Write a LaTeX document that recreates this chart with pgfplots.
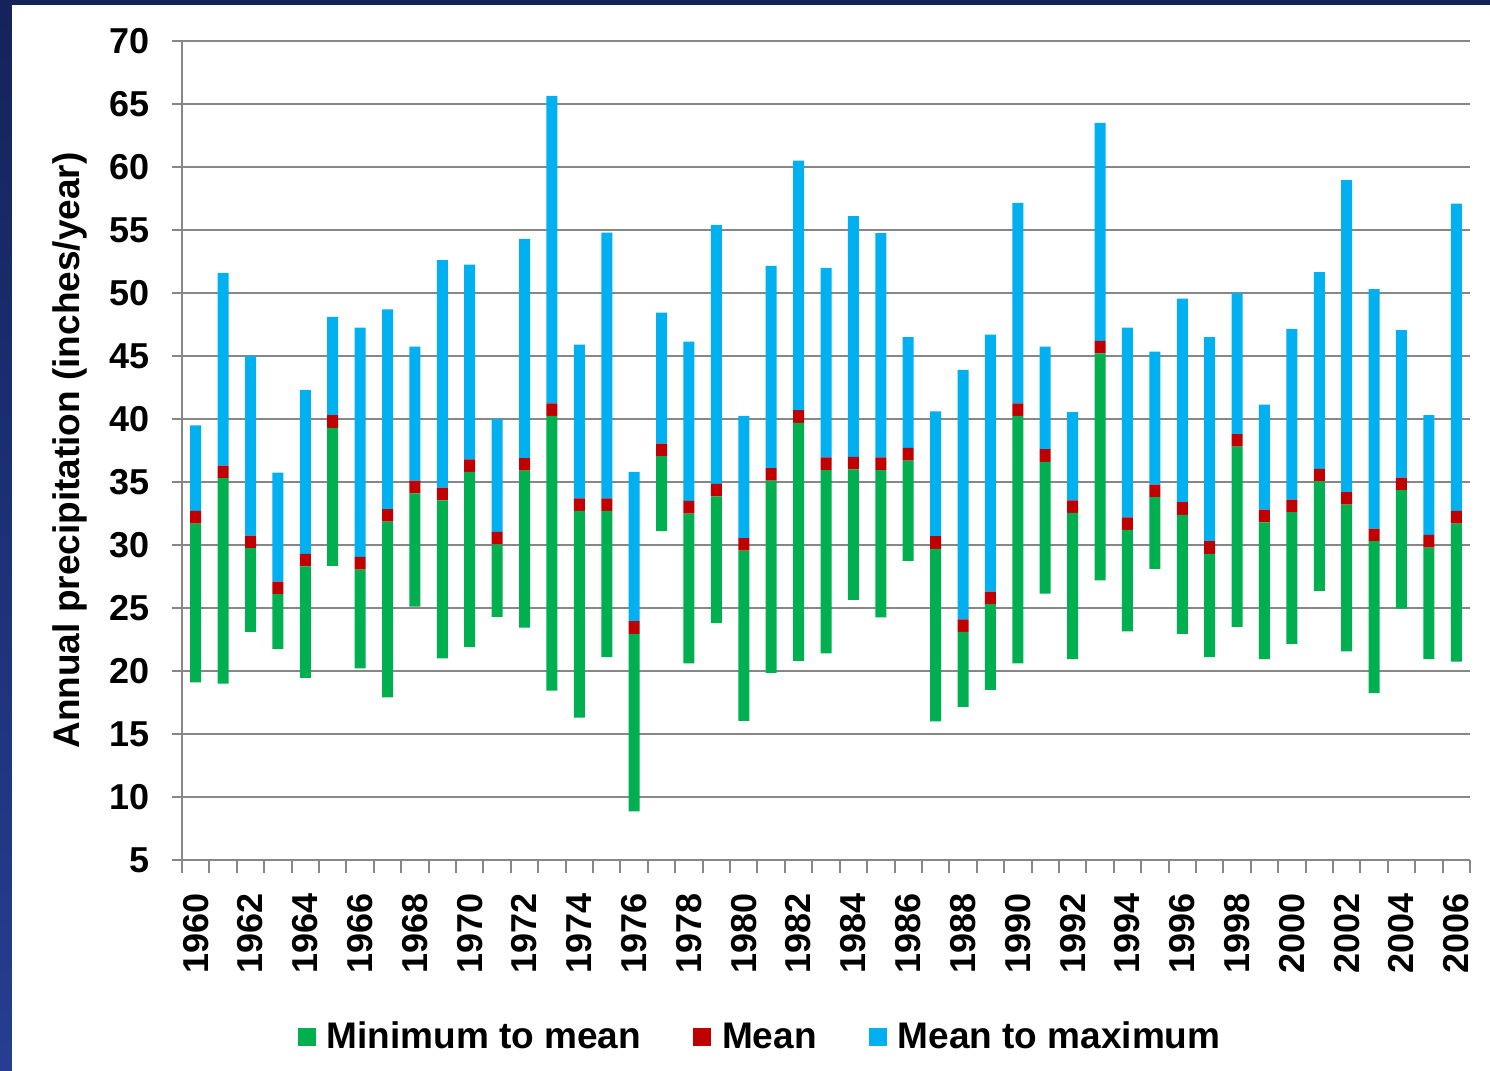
\documentclass[border=0pt]{standalone}
\usepackage{fontspec}
\setmainfont{Liberation Sans}
\usepackage{pgfplots}
\usepackage{pgfplotstable}
\pgfplotsset{compat=1.18}
\definecolor{cgreen}{HTML}{00B050}
\definecolor{cred}{HTML}{C00000}
\definecolor{cblue}{HTML}{00B0F0}
\definecolor{cgrid}{HTML}{878787}
\definecolor{navy}{RGB}{20,35,90}
\definecolor{navy2}{RGB}{38,62,145}
\pgfplotstableread{
year min mean max
1960 19.1 32.2 39.5
1961 19.0 35.8 51.6
1962 23.1 30.25 45.0
1963 21.75 26.6 35.75
1964 19.45 28.8 42.3
1965 28.35 39.8 48.1
1966 20.2 28.55 47.25
1967 17.9 32.35 48.7
1968 25.1 34.6 45.75
1969 21.0 34.05 52.6
1970 21.9 36.3 52.25
1971 24.3 30.55 40.0
1972 23.45 36.4 54.3
1973 18.45 40.75 65.65
1974 16.3 33.2 45.9
1975 21.1 33.2 54.8
1976 8.85 23.45 35.8
1977 31.1 37.55 48.45
1978 20.6 33.0 46.15
1979 23.8 34.35 55.4
1980 16.05 30.05 40.25
1981 19.85 35.6 52.15
1982 20.8 40.2 60.5
1983 21.4 36.45 52.0
1984 25.65 36.5 56.1
1985 24.25 36.45 54.75
1986 28.75 37.2 46.5
1987 16.0 30.2 40.6
1988 17.15 23.6 43.9
1989 18.5 25.8 46.7
1990 20.6 40.75 57.15
1991 26.15 37.1 45.75
1992 20.95 33.05 40.55
1993 27.2 45.7 63.5
1994 23.15 31.7 47.25
1995 28.1 34.3 45.35
1996 22.95 32.9 49.55
1997 21.1 29.8 46.5
1998 23.5 38.3 50.0
1999 20.95 32.3 41.15
2000 22.15 33.1 47.15
2001 26.35 35.55 51.65
2002 21.55 33.7 58.95
2003 18.25 30.8 50.3
2004 24.95 34.85 47.05
2005 20.95 30.3 40.3
2006 20.75 32.2 57.1
}\data
\begin{document}
\begin{tikzpicture}
\fill[navy] (-91pt,427.5pt) rectangle (654pt,430pt);
\shade[top color=navy, bottom color=navy2] (-91pt,-105.5pt) rectangle (-85pt,430pt);
\begin{axis}[
  name=ax, at={(0,0)}, anchor=south west,
  width=644pt, height=409.5pt, scale only axis,
  xmin=1959.5, xmax=2006.5, ymin=5, ymax=70,
  enlargelimits=false,
  ybar stacked, bar width=5.5pt,
  ytick={5,10,...,70},
  ymajorgrids, grid style={cgrid, line width=1pt},
  axis x line*=bottom, axis y line*=left,
  axis line style={cgrid, line width=1pt, -},
  tick style={cgrid, line width=1pt},
  tick align=outside,
  major tick length=5pt, minor tick length=6.5pt,
  xtick={1960,1962,...,2006},
  minor xtick={1959.5,1960.5,...,2006.5},
  major x tick style={draw=none},
  /pgf/number format/assume math mode=true,
  /pgf/number format/1000 sep={},
  tick label style={font=\fontsize{18}{20}\selectfont\bfseries, black},
  x tick label style={rotate=90, anchor=east},
  xticklabel shift=8pt,
  yticklabel shift=7.5pt,
  ylabel={Annual precipitation (inches/year)},
  ylabel style={at={(axis description cs:-0.087,0.5)}, anchor=center, font=\fontsize{18.5}{21}\selectfont\bfseries},
  legend style={at={(0.4496,-0.2162)}, anchor=center, draw=none, fill=none,
    legend columns=3, font=\fontsize{18.5}{21}\selectfont\bfseries,
    /tikz/every odd column/.append style={column sep=3.5pt},
    /tikz/every even column/.append style={column sep=24pt}},
  legend cell align=left,
  legend image code/.code={\fill[#1] (0pt,-4.5pt) rectangle (9pt,4.5pt);},
]
\addplot[draw=none, fill=none, forget plot] table[x=year, y=min]{\data};
\addplot[draw=none, fill=cgreen] table[x=year, y expr=\thisrow{mean}-0.5-\thisrow{min}]{\data};
\addplot[draw=none, fill=cred] table[x=year, y expr=1]{\data};
\addplot[draw=none, fill=cblue] table[x=year, y expr=\thisrow{max}-\thisrow{mean}-0.5]{\data};
\legend{Minimum to mean, Mean, Mean to maximum}
\end{axis}
\pgfresetboundingbox
\path[use as bounding box] (-91pt,-105.5pt) rectangle (654pt,430pt);
\end{tikzpicture}
\end{document}
